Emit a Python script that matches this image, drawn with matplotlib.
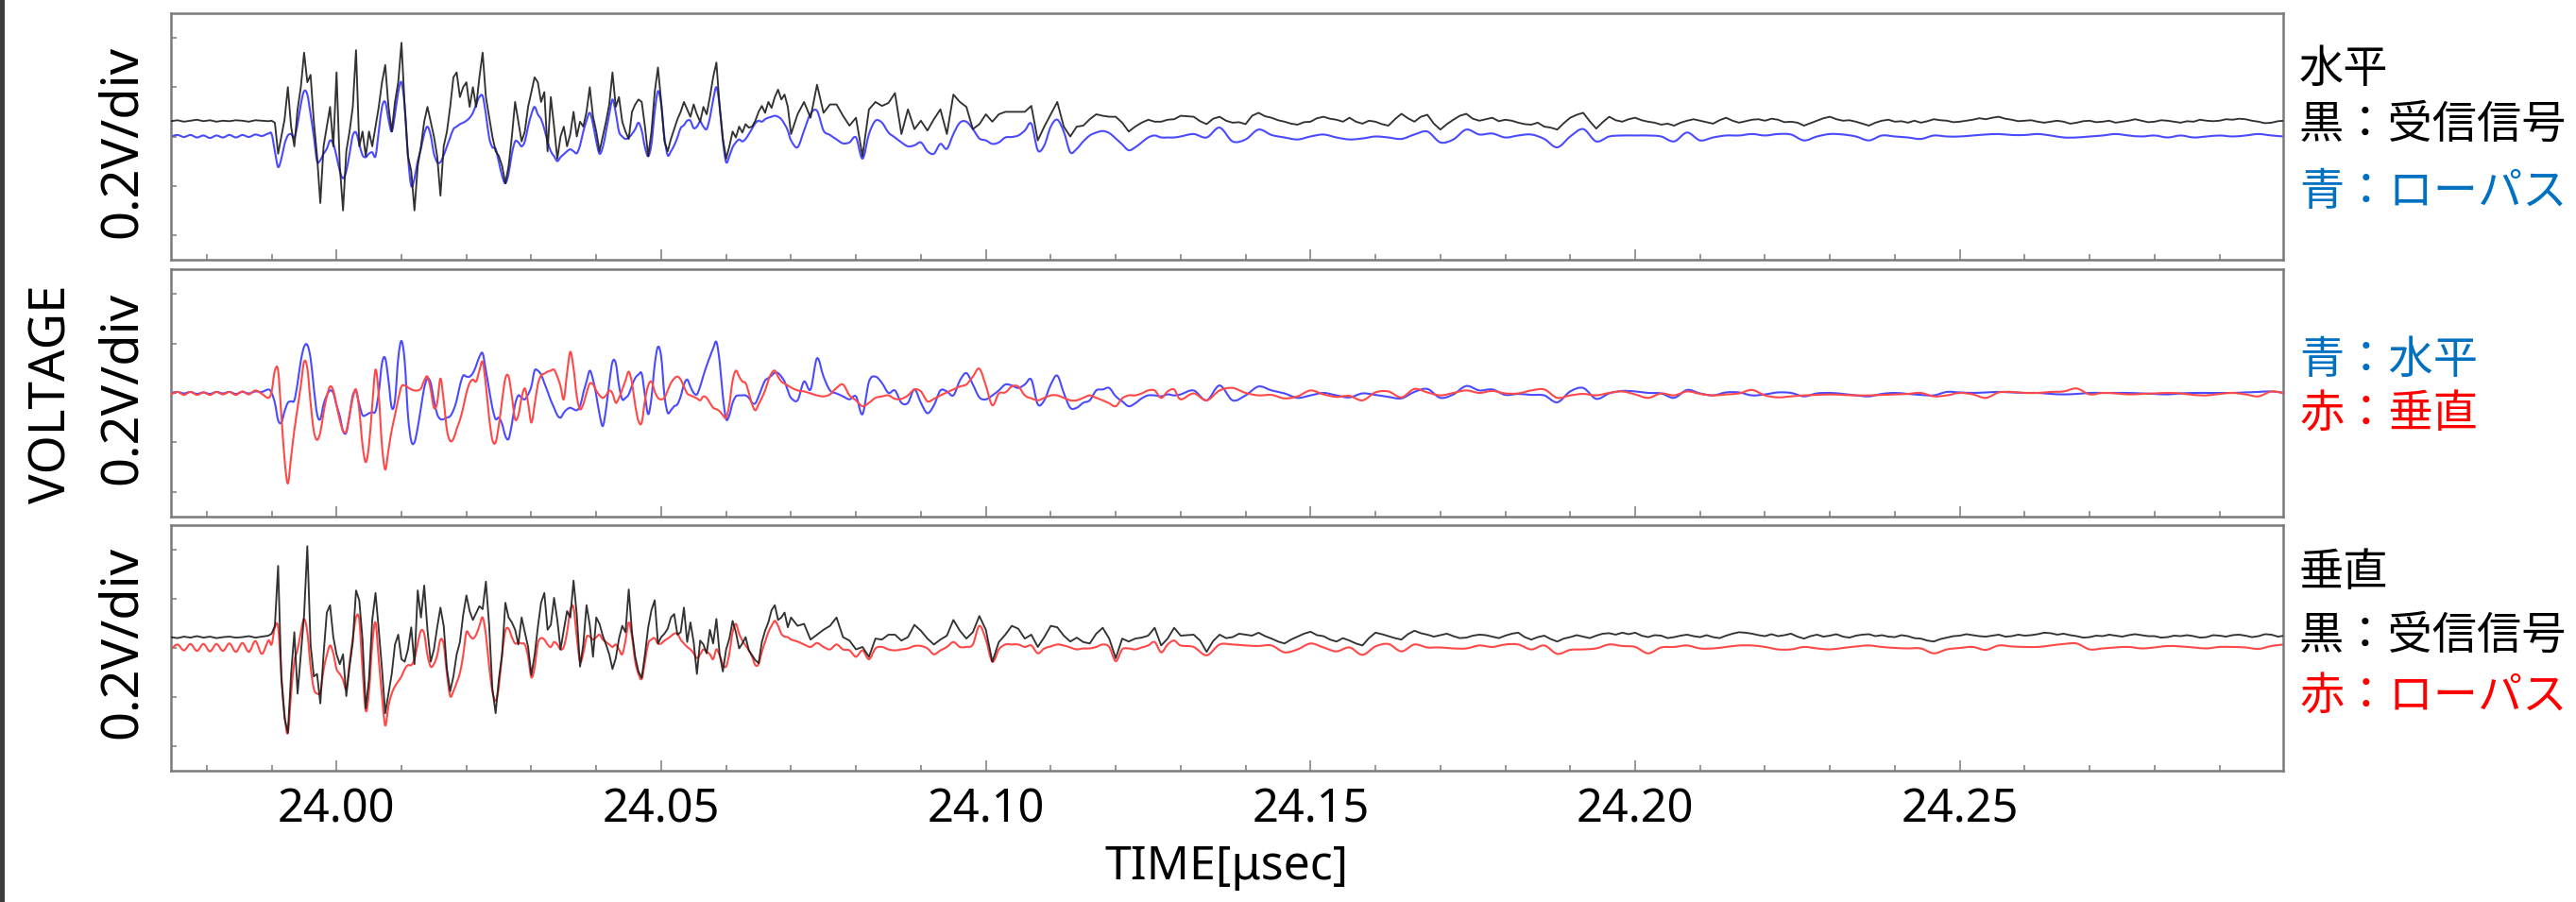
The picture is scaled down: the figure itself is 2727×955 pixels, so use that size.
import numpy as np
import matplotlib
matplotlib.use("Agg")
import matplotlib.pyplot as plt
from matplotlib.ticker import MultipleLocator
from matplotlib.patches import Rectangle, PathPatch
from matplotlib.path import Path

# ---------------------------------------------------------------------------
# Sample-time segments (µsec).  Each waveform is stored as four pieces that
# share these segments: quiet lead-in, main burst, decay, and tail.
# ---------------------------------------------------------------------------
SEG_PRE = (23.9745, 23.9895)
SEG_BURST = (23.9900, 24.0700)
SEG_MID = (24.0710, 24.1300)
SEG_TAIL = (24.1320, 24.3000)

# ---- Panel 1: horizontal receiver, raw signal (mV) ------------------------
h_raw_pre = [62, 66, 60, 64, 68, 62, 66, 60, 64, 62, 66, 64, 60, 66, 64, 62]
h_raw_burst = [
    64, 56, -70, 0, 70, 200, 40, -40, 110, 200,
    340, 220, 250, 60, -80, -270, -40, 40, 120, -40,
    260, -120, -300, -60, 20, 120, 350, -40, 20, -80,
    20, -40, 40, 120, 220, 290, 120, 20, 140, 220,
    380, 120, -80, -140, -300, -120, -40, 60, 120, 60,
    0, -80, -240, -40, 20, 120, 240, 260, 160, 200,
    220, 120, 200, 120, 240, 340, 160, 80, 0, -60,
    -80, -120, -190, -120, 0, 140, 60, -20, 20, 120,
    180, 240, 220, 140, 180, -60, 160, 40, -90, 0,
    40, -40, 10, 100, 0, 60, 40, 100, 200, 80,
    20, -60, 0, 60, 130, 260, 120, 160, 60, 20,
    -10, 100, 130, 150, 140, 40, -80, 20, 180, 280,
    140, -20, -60, -10, 30, 70, 100, 140, 110, 80,
    130, 90, 60, 120, 90, 160, 240, 300, 120, -10,
    -90, -40, 20, -4, 40, 16, 50, 36, 40, 64,
    100, 124, 96, 140, 116, 160, 190, 150, 170, 120,
    10]
h_raw_mid = [
    90, 140, 76, 210, 96, 130, 130, 84, 44, 76,
    -80, 110, 140, 124, 136, 176, 10, 110, 30, 64,
    24, 70, 110, 10, 170, 140, 120, 30, 50, 90,
    60, 90, 100, 100, 100, 100, 124, -16, 40, 90,
    140, 40, 0, 40, 44, 70, 90, 84, 80, 80,
    56, 20, 40, 56, 68, 60, 60, 68, 70, 84]
h_raw_tail = [
    80, 62, 50, 72, 80, 64, 56, 58, 50, 84,
    96, 82, 76, 66, 60, 52, 48, 58, 60, 74,
    80, 72, 68, 60, 76, 60, 52, 64, 60, 50,
    44, 70, 92, 74, 60, 80, 88, 52, 28, 50,
    68, 84, 92, 72, 64, 70, 76, 62, 68, 64,
    56, 50, 48, 56, 40, 36, 28, 54, 76, 88,
    96, 62, 32, 58, 80, 66, 60, 70, 76, 66,
    60, 56, 48, 52, 44, 56, 64, 70, 64, 58,
    52, 66, 76, 64, 56, 62, 68, 70, 64, 72,
    68, 58, 60, 56, 44, 54, 64, 74, 80, 70,
    64, 66, 60, 52, 44, 56, 64, 68, 60, 62,
    56, 64, 56, 62, 70, 66, 64, 58, 60, 64,
    68, 74, 70, 76, 80, 72, 68, 62, 64, 66,
    60, 56, 60, 64, 60, 52, 56, 62, 64, 58,
    60, 64, 56, 60, 64, 70, 64, 58, 60, 66,
    64, 60, 56, 62, 60, 68, 64, 62, 64, 70,
    68, 72, 70, 64, 60, 54, 56, 62, 64]

# ---- Panel 1: horizontal receiver, low-pass output (mV) -------------------
h_lp_pre = [0, 6, -2, 6, -4, 4, -6, 4, -4, 6, -4, 6, -2, 8, 2, 12]
h_lp_burst = [
    10, -60, -124, -90, -30, 4, 10, -4, 50, 130,
    184, 170, 90, 0, -100, -96, -70, -50, -16, -30,
    -80, -140, -170, -140, -70, 4, 16, -30, -76, -84,
    -70, -64, -80, 20, 120, 140, 70, 20, 90, 180,
    220, 120, -80, -200, -170, -100, -50, 10, 40, 4,
    -70, -104, -104, -76, -40, -4, 30, 40, 50, 56,
    64, 76, 96, 130, 160, 164, 90, -4, -44, -50,
    -104, -160, -190, -150, -70, -20, -24, -40, -20, 40,
    90, 120, 90, 70, 30, -20, -60, -80, -100, -84,
    -72, -60, -52, -60, -68, -36, 20, 64, 96, 50,
    -20, -70, -44, 20, 90, 150, 96, 20, 0, -10,
    -4, 10, 30, 56, 24, -44, -80, -30, 100, 184,
    130, -4, -76, -60, -36, -4, 34, 46, 64, 64,
    34, 40, 60, 40, 30, 76, 148, 200, 124, -16,
    -104, -80, -44, -24, -12, -20, -10, 10, 32, 54,
    64, 60, 70, 76, 80, 84, 80, 70, 50, 24,
    -16]
h_lp_mid = [
    -44, 24, 92, 104, 24, 6, -12, -28, -24, -4,
    -90, 10, 64, 56, 16, -4, -24, -40, -36, -24,
    -60, -70, -30, -50, 10, 56, 60, 30, -8, -16,
    -30, -24, -4, -2, 4, 24, 52, -56, -36, 40,
    68, 20, -64, -50, -20, 4, 16, 22, 14, -8,
    -32, -56, -44, -24, -4, 4, -4, -4, -4, 0]
h_lp_tail = [
    10, -4, 36, -20, -12, 28, 6, -4, -12, 0,
    8, -4, -12, -8, 0, -4, -10, 8, 20, -24,
    -12, 28, 8, 12, -4, 4, 8, -10, -44, 0,
    30, -20, 0, 4, 4, 4, 0, -20, 16, -16,
    -4, 4, 4, 10, 4, 10, 8, -16, 0, 10,
    8, 0, -16, 4, 0, -4, -10, 4, 0, 0,
    4, 8, 10, 6, 6, 10, 4, -4, -4, 0,
    4, 10, 4, 0, 4, -4, 4, -4, 0, 4,
    0, 4, 10, 4, 0]

# ---- Panel 2: low-pass horizontal (blue) vs. low-pass vertical (red) ------
cmp_h_pre = [0, 4, -2, 4, -4, 2, -4, 4, -2, 4, -4, 4, -2, 6, 4, 14]
cmp_h_burst = [
    0, -40, -110, -120, -74, -40, -34, -30, 40, 130,
    186, 194, 140, 20, -86, -106, -46, -10, 10, 0,
    -50, -94, -154, -160, -90, -10, 6, -46, -90, -90,
    -82, -78, -74, 0, 120, 140, 50, -60, -30, 140,
    210, 126, -90, -194, -200, -140, -60, 20, 58, 40,
    -30, -86, -106, -106, -100, -94, -70, -30, 30, 70,
    66, 66, 80, 110, 146, 160, 90, 14, -60, -106,
    -100, -126, -174, -186, -126, -46, -10, -20, -26, -6,
    26, 90, 90, 74, 40, 6, -30, -60, -90, -100,
    -80, -66, -60, -66, -70, -54, 0, 46, 90, 54,
    -10, -86, -134, -66, 40, 126, 120, 30, -26, -20,
    -6, 30, 60, 74, 78, -10, -86, -20, 114, 186,
    146, -10, -80, -70, -54, -46, -14, 34, 54, 26,
    0, -6, 26, 70, 110, 146, 180, 206, 126, -14,
    -106, -90, -40, -14, -10, -10, -10, -20, -40, -42,
    -14, 20, 50, 60, 70, 82, 80, 66, 46, 10,
    -20]
cmp_h_mid = [
    -30, 46, 14, 140, 66, 10, -2, -14, -26, -14,
    -86, 46, 66, 40, 0, 10, -40, -40, 14, -40,
    -82, -50, 10, 6, -10, 50, 80, 34, -18, -26,
    -10, 10, 34, 30, 20, 34, 54, -46, -30, 34,
    70, 0, -60, -60, -40, -30, 10, 14, 20, -14,
    -34, -54, -42, -22, -10, -10, -14, -6, -10, -6]
cmp_h_tail = [
    10, -30, 30, -30, -10, 26, 10, -2, -20, -10,
    0, -10, -18, -2, -8, -16, -22, 4, 16, -20,
    -6, 28, 10, 14, -8, -4, -8, -10, -38, 6,
    20, -24, -2, 8, 6, 0, -2, -20, 12, -2,
    -10, 2, 2, -10, -6, 2, 0, -14, -2, 0,
    -4, -10, -14, -4, 0, -4, -8, -10, 4, 2,
    0, 2, 4, 2, 0, 0, -4, -6, -4, 0,
    0, 0, 0, -2, -4, -6, -2, 0, 0, 0,
    0, 2, 4, 6, 0]

cmp_v_pre = [-6, 4, -8, 4, -8, 2, -8, 4, -6, 4, -8, 6, -6, 10, -4, -20]
cmp_v_burst = [
    6, 90, 90, -90, -270, -366, -260, -150, -60, 30,
    126, 100, -40, -154, -190, -160, -80, -14, 26, 10,
    -50, -110, -154, -154, -90, -20, 14, -70, -210, -280,
    -210, -50, 94, -10, -214, -310, -230, -150, -90, -26,
    26, 30, 22, 14, 10, 10, 18, 50, 66, 14,
    -60, -40, 58, -30, -150, -194, -186, -146, -110, -60,
    0, 40, 54, 46, 90, 126, 30, -100, -190, -200,
    -130, -30, 60, 66, -14, -106, -90, -20, 18, -40,
    -120, -50, 34, 70, 78, 86, 90, 94, 66, 26,
    -26, 80, 166, 100, -14, -66, -46, 0, 38, 34,
    10, -10, -20, -10, 10, -2, -40, -20, 14, 50,
    86, 40, -50, -114, -120, -30, 30, 46, 6, -20,
    -26, -20, 10, 40, 58, 66, 54, 26, -2, -10,
    -16, -22, -30, -14, -20, -40, -60, -66, -74, -90,
    -100, -46, 50, 90, 66, 46, 40, 0, -46, -70,
    -46, -20, 10, 50, 80, 90, 66, 46, 38, 30,
    22]
cmp_v_mid = [
    10, 6, -2, -10, -14, -6, 20, 34, -10, -30,
    -54, -40, -20, -14, -10, -24, -24, -10, 14, 6,
    -34, -24, -10, 2, 14, 26, 34, 66, 98, 30,
    -50, -2, 2, 26, 26, -10, -22, -30, -20, -10,
    -10, -20, -30, -30, -20, -10, -20, -30, -42, -54,
    -22, -10, -10, -2, 10, 10, -20, 6, 14, -26]
cmp_v_tail = [
    -2, -30, 10, 20, 0, -10, -8, -22, -14, 10,
    -6, -16, -12, -30, 2, 6, -18, 16, 2, -10,
    0, 10, 0, 8, -2, -2, 10, 14, -20, -10,
    -4, -10, 0, 6, -6, -20, -2, -10, 6, -4,
    -10, -6, -2, 12, -10, -18, -14, -10, -8, -6,
    -8, -10, -10, -8, -6, -4, 0, -14, -10, 0,
    -6, -20, 2, 4, 0, 0, 4, 6, 18, -6,
    0, -2, -6, -4, -2, 0, -2, -8, -10, -4,
    0, -6, -14, 6, -2]

# ---- Panel 3: vertical receiver, raw signal (mV) --------------------------
v_raw_pre = [44, 40, 46, 42, 48, 42, 46, 40, 44, 46, 42, 44, 48, 42, 46, 50]
v_raw_burst = [
    58, 90, 334, -126, -286, -346, -106, 64, -186, -26,
    134, 414, 14, -116, -106, -226, -26, 144, 174, 44,
    -26, -66, -26, -196, -76, 24, 234, 194, 34, -246,
    -126, 114, 224, 74, -86, -266, -186, -106, 14, 54,
    -46, -56, -6, 84, -66, 234, 124, 254, 74, -56,
    -6, 84, 164, 90, -86, -176, -116, -26, 24, 134,
    214, 150, 114, 142, 170, 158, 270, 94, -166, -266,
    -126, -26, 184, 124, 104, 74, 14, 124, 64, 4,
    -110, -30, 84, 184, 224, 74, 94, 204, 114, -6,
    74, 150, 124, 274, 134, -76, 14, 174, 94, -36,
    124, 98, 50, 14, -26, -86, -42, 38, 90, 64,
    238, 64, -36, -96, -122, -26, 84, 154, 194, 18,
    44, 58, 78, 124, 138, 54, 64, 164, 24, 104,
    24, -106, 30, 14, -22, 74, 18, 118, -26, -96,
    -6, 38, 110, 64, -2, 18, 44, -10, -30, -50,
    -62, 24, 70, 104, 154, 174, 114, 124, 144, 84,
    124]
v_raw_mid = [
    90, 98, 34, 54, 74, 90, 124, 44, 30, -6,
    4, -36, 38, 34, 54, 54, 30, 44, 94, 70,
    38, 14, 34, 50, 114, 70, 38, 64, 130, 74,
    -56, 24, 54, 90, 78, 38, 54, 4, 44, 90,
    84, 50, 26, 42, 24, 18, 58, 82, 38, -42,
    38, 26, 38, 42, 50, 82, 10, 38, 82, 50]
v_raw_tail = [
    54, 30, -16, 28, 54, 40, 44, 58, 54, 50,
    62, 48, 38, 26, 18, 34, 46, 58, 66, 52,
    48, 34, 26, 40, 30, 18, 10, 40, 62, 56,
    48, 40, 34, 56, 70, 60, 54, 46, 52, 58,
    48, 40, 42, 50, 54, 52, 46, 40, 50, 58,
    62, 44, 34, 44, 50, 36, 26, 38, 44, 52,
    46, 40, 50, 58, 60, 54, 62, 56, 62, 50,
    44, 52, 50, 40, 44, 50, 54, 48, 44, 52,
    44, 40, 50, 58, 64, 62, 58, 52, 48, 56,
    48, 52, 58, 46, 38, 48, 54, 46, 50, 56,
    46, 42, 50, 54, 56, 48, 52, 46, 44, 52,
    48, 40, 38, 30, 26, 36, 42, 48, 50, 56,
    52, 48, 46, 50, 54, 46, 48, 54, 50, 52,
    56, 62, 60, 54, 58, 52, 48, 42, 44, 50,
    48, 54, 50, 46, 52, 56, 52, 48, 48, 42,
    44, 50, 48, 52, 48, 42, 44, 52, 50, 46,
    52, 54, 50, 44, 48, 56, 54, 46, 50]

# ---- Panel 3: vertical receiver, low-pass output (mV) ---------------------
v_lp_pre = [-6, 14, -10, 16, -12, 16, -14, 16, -12, 18, -16, 20, -16, 28, -24, 30]
v_lp_burst = [
    14, 84, 84, -106, -276, -346, -186, -56, -6, 64,
    118, 64, -76, -166, -186, -178, -90, -30, 10, -22,
    -86, -106, -130, -166, -62, 38, 124, 114, -86, -256,
    -176, 14, 104, -46, -196, -316, -236, -186, -156, -136,
    -116, -86, -70, -70, -46, 18, 70, 58, -30, -76,
    -66, -30, 34, 14, -106, -196, -176, -142, -102, -30,
    64, 50, 38, 54, 90, 124, 54, -76, -176, -216,
    -156, -26, 70, 78, 44, 18, 22, 18, 14, -36,
    -120, -80, 18, 40, 34, 14, 4, 24, 14, -6,
    4, 64, 154, 164, 44, -56, -22, 44, 46, 34,
    44, 54, 34, 24, 14, 4, 14, -6, -26, 30,
    104, 44, -56, -106, -126, -56, 18, 34, 40, 18,
    18, 30, 38, 48, 58, 58, 34, 18, 4, -6,
    -22, -42, -26, -6, -16, -26, -46, -6, -30, -66,
    -76, -22, 64, 98, 58, 30, 10, -10, -36, -70,
    -66, -16, 24, 64, 90, 110, 90, 58, 46, 44,
    34]
v_lp_mid = [
    26, 14, 4, 20, 4, -6, 14, -6, -10, -36,
    -10, -46, -2, 4, -6, -10, -6, -2, 8, 8,
    -2, -26, -10, 4, 24, 4, 4, 14, 90, 34,
    -56, -6, 14, 14, 14, 4, 10, -22, -2, 6,
    14, 10, 2, -6, -2, -2, 4, 14, 4, -54,
    -6, -2, -6, 2, 10, 24, -18, 14, 30, 10]
v_lp_tail = [
    4, -30, 14, 14, 10, 8, 10, -18, -6, 18,
    2, -14, 2, -28, 6, 16, -14, 14, 2, 2,
    -2, -2, 10, 4, 14, 14, -6, 10, -24, -8,
    -6, -2, 14, 8, 4, -22, 2, 4, 10, -2,
    -2, 4, 10, 10, 4, -6, -6, 4, -2, -6,
    0, 6, 10, 4, 0, -2, -2, -22, -6, 0,
    4, -8, 10, 6, 4, 4, 10, 16, 18, -6,
    -2, 2, 4, -2, 2, 8, 6, 2, -2, 4,
    4, 2, -4, 8, 14]

# Axis labelling
x_major_ticks = [24.00, 24.05, 24.10, 24.15, 24.20, 24.25]
x_tick_labels = ["24.00", "24.05", "24.10", "24.15", "24.20", "24.25"]
y_ticks_mv = [-400, -200, 0, 200, 400]
XLIM = (23.9745, 24.2998)
YLIM = (-500, 500)


def waveform(pre, burst, mid, tail):
    parts = [(SEG_PRE, pre), (SEG_BURST, burst), (SEG_MID, mid), (SEG_TAIL, tail)]
    t = np.concatenate([np.linspace(s[0], s[1], len(v)) for s, v in parts])
    y = np.concatenate([np.asarray(v, dtype=float) for _, v in parts])
    return t, y


def smooth_trace(ax, t, y, **kw):
    """Draw a filtered trace as a Catmull-Rom curve through the samples."""
    p = np.column_stack([t, y])
    prev_p = np.vstack([p[:1], p[:-1]])
    next_p = np.vstack([p[1:], p[-1:]])
    tan = (next_p - prev_p) / 6.0
    verts = [p[0]]
    codes = [Path.MOVETO]
    for i in range(len(p) - 1):
        verts += [p[i] + tan[i], p[i + 1] - tan[i + 1], p[i + 1]]
        codes += [Path.CURVE4] * 3
    patch = PathPatch(Path(np.array(verts), codes), facecolor="none", **kw)
    ax.add_patch(patch)


BLACK_TRACE = "#1c1c1c"
BLUE_TRACE = "#4a4aff"
RED_TRACE = "#ff4848"
TEXT_BLUE = "#0070c0"
TEXT_RED = "#ff0000"
FRAME = "#7a7a7a"

LATIN = ["Noto Sans", "DejaVu Sans"]
CJK = ["Noto Sans CJK JP", "DejaVu Sans"]

W, H = 2727, 955
fig = plt.figure(figsize=(W / 100, H / 100), dpi=100)
fig.patch.set_facecolor("white")


def px_axes(left, top, right, bottom):
    return fig.add_axes([left / W, 1 - bottom / H, (right - left) / W, (bottom - top) / H])


ax1 = px_axes(181, 14, 2417, 275)
ax2 = px_axes(181, 285, 2417, 547)
ax3 = px_axes(181, 556, 2417, 816)

LP_KW = dict(lw=1.5, joinstyle="round", capstyle="round")
RAW_KW = dict(lw=1.35, alpha=0.9, solid_joinstyle="round")

# Panel 1: horizontal
t, y = waveform(h_lp_pre, h_lp_burst, h_lp_mid, h_lp_tail)
smooth_trace(ax1, t, y, edgecolor=BLUE_TRACE, zorder=2, **LP_KW)
t, y = waveform(h_raw_pre, h_raw_burst, h_raw_mid, h_raw_tail)
ax1.plot(t, y, color=BLACK_TRACE, zorder=3, **RAW_KW)

# Panel 2: horizontal vs vertical low-pass
t, y = waveform(cmp_h_pre, cmp_h_burst, cmp_h_mid, cmp_h_tail)
smooth_trace(ax2, t, y, edgecolor=BLUE_TRACE, zorder=2, **LP_KW)
t, y = waveform(cmp_v_pre, cmp_v_burst, cmp_v_mid, cmp_v_tail)
smooth_trace(ax2, t, y, edgecolor=RED_TRACE, zorder=3, **LP_KW)

# Panel 3: vertical
t, y = waveform(v_lp_pre, v_lp_burst, v_lp_mid, v_lp_tail)
smooth_trace(ax3, t, y, edgecolor=RED_TRACE, zorder=2, **LP_KW)
t, y = waveform(v_raw_pre, v_raw_burst, v_raw_mid, v_raw_tail)
ax3.plot(t, y, color=BLACK_TRACE, zorder=3, **RAW_KW)

for ax in (ax1, ax2, ax3):
    ax.set_xlim(*XLIM)
    ax.set_ylim(*YLIM)
    ax.set_yticks(y_ticks_mv)
    ax.set_xticks(x_major_ticks)
    ax.xaxis.set_minor_locator(MultipleLocator(0.01))
    ax.tick_params(axis="y", which="major", direction="in", length=4.5, width=1.1,
                   color=FRAME, left=True, right=False, labelleft=False)
    ax.tick_params(axis="x", which="major", direction="in", length=8, width=1.1,
                   color=FRAME, top=False, labelbottom=False)
    ax.tick_params(axis="x", which="minor", direction="in", length=4.5, width=1.1,
                   color=FRAME, top=False)
    for s in ax.spines.values():
        s.set_color(FRAME)
        s.set_linewidth(1.8)
    ax.set_facecolor("white")

# Per-panel scale labels
for ypx in (150, 411, 680):
    fig.text(129 / W, 1 - ypx / H, "0.2V/div", rotation=90, ha="center",
             va="center", fontsize=39, family=LATIN, color="black")

ax3.tick_params(axis="x", which="major", labelbottom=True, pad=12)
ax3.set_xticklabels(x_tick_labels, fontsize=35, family=LATIN)
fig.text(1299 / W, 1 - 918 / H, "TIME[\u03bcsec]", ha="center", va="center",
         fontsize=36, family=LATIN)
fig.text(56 / W, 1 - 417 / H, "VOLTAGE", rotation=90, ha="center", va="center",
         fontsize=38, family=LATIN)

# Right-hand annotations
notes = [
    (74, "水平", "black"),
    (133, "黒：受信信号", "black"),
    (204, "青：ローパス", TEXT_BLUE),
    (382, "青：水平", TEXT_BLUE),
    (439, "赤：垂直", TEXT_RED),
    (607, "垂直", "black"),
    (674, "黒：受信信号", "black"),
    (737, "赤：ローパス", TEXT_RED),
]
for ypx, txt, col in notes:
    fig.text(2434 / W, 1 - ypx / H, txt, ha="left", va="center", fontsize=34,
             family=CJK, color=col)

# Dark frame edge along the left border
fig.add_artist(Rectangle((0, 0), 5 / W, 1, transform=fig.transFigure,
                         facecolor="#3c3c3c", edgecolor="none"))

fig.savefig("out.png", dpi=100, facecolor="white")
